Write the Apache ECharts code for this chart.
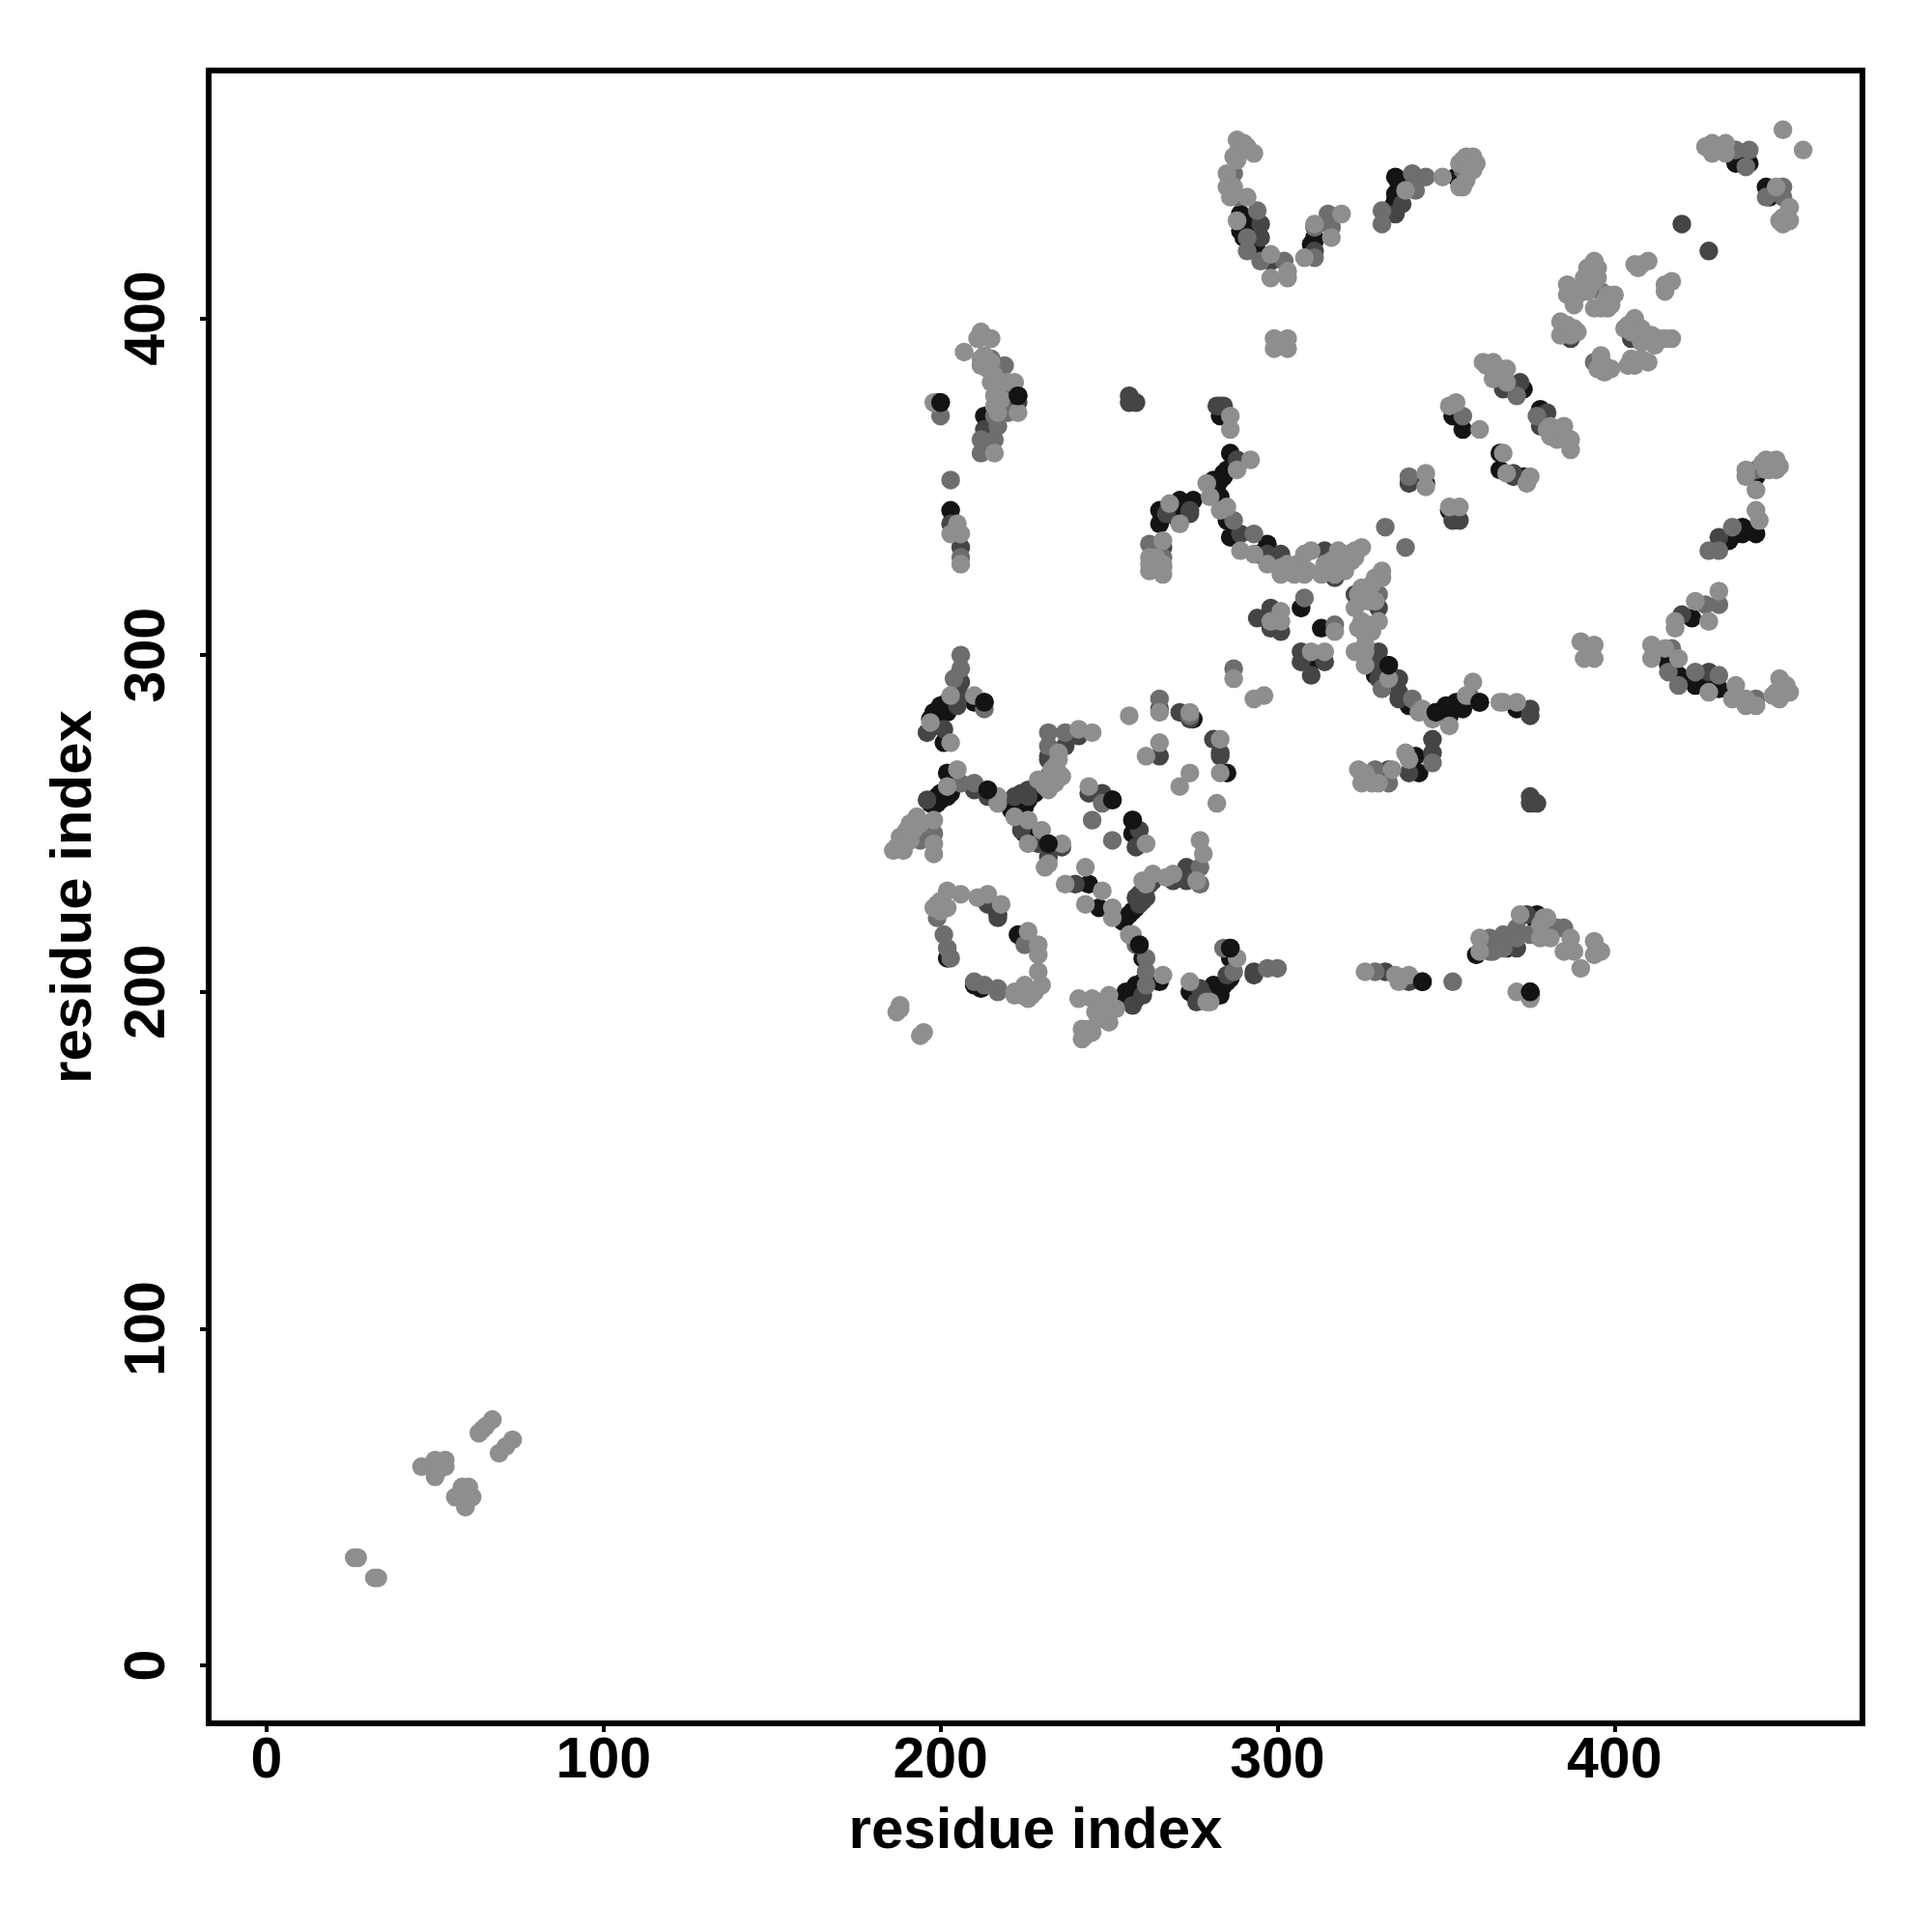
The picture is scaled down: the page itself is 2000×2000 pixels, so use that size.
<!DOCTYPE html>
<html><head><meta charset="utf-8">
<style>html,body{margin:0;background:#fff}#c{width:2000px;height:2000px}</style>
<script src="https://cdn.jsdelivr.net/npm/echarts@6/dist/echarts.min.js"></script></head>
<body><div id="c"></div>
<script>
const tickValues=[0,100,200,300,400];
const axisTitle="residue index";
const contactsLight=[[26,32],[27,32],[32,26],[33,26],[46,59],[50,56],[50,61],[53,61],[53,59],[51,58],[56,50],[59,47],[58,53],[60,53],[61,50],[58,50],[67,73],[65,71],[63,69],[64,70],[73,67],[71,65],[69,63],
[205,266],[202,261],[217,258],[217,256],[198,251],[191,250],[193,252],[198,244],[198,241],[188,246],[191,245],[186,242],[189,242],[229,263],[234,262],[235,265],[235,269],[231,261],[226,251],[222,252],[230,248],[226,244],[236,244],[232,238],[231,237],[244,261],[261,244],[243,237],[237,232],[248,230],[243,226],[251,225],[251,222],[261,232],[263,235],[260,233],[267,234],[269,235],[276,233],[257,217],[256,217],[266,205],[241,198],[245,198],[250,199],[252,195],[250,191],[246,194],[245,188],[242,189],[242,186],[202,230],[206,229],[211,228],[214,229],[218,226],[198,225],[202,225],[226,218],[229,214],[229,211],[229,206],[230,202],[225,202],[222,199],[226,198],[224,199],[188,195],[188,196],[187,194],[195,188],[194,187],
[274,265],[271,261],[283,265],[282,256],[324,266],[326,265],[325,262],[328,262],[334,266],[339,269],[277,245],[278,241],[288,210],[274,203],[280,197],[279,197],[326,206],[335,205],[336,203],[339,205],[360,216],[360,212],
[372,223],[379,222],[380,222],[378,220],[381,216],[378,216],[387,216],[388,212],[385,212],[390,207],[394,215],[394,211],[396,212],[371,200],[375,198],
[216,360],[205,339],[203,336],[206,336],[206,327],[210,288],[197,280],[203,274],[203,288],[241,278],[245,277],[235,271],[256,282],[265,283],[265,274],[261,270],[268,345],[271,339],[266,334],[262,329],[262,325],[266,324],[262,327],
[292,358],[288,355],[279,351],[280,347],[285,344],[283,343],[289,331],[293,330],[297,327],[301,326],[301,324],[306,327],[308,330],[308,324],[305,324],[310,331],[318,331],[314,327],[313,324],[317,324],[320,327],[321,330],[325,332],[323,331],[331,325],[331,323],[329,323],[325,320],[325,316],[323,314],[330,310],[324,308],[328,307],[326,306],[323,301],[326,301],[326,297],[333,293],[343,284],[342,283],[346,281],[351,279],[356,288],[358,292],[367,286],[301,313],[298,310],[301,310],[317,307],[310,301],[314,301],[287,293],[296,288],[293,287],[274,283],[283,275],[338,271],[344,354],[344,350],[351,344],[354,344],[367,360],[368,354],
[375,353],[374,351],[387,364],[387,361],[383,364],[448,358],[445,358],[448,355],[445,355],[439,355],[439,353],[442,349],[442,343],[443,340],[431,319],[424,316],[428,310],[418,310],[418,308],[390,304],[394,303],[391,299],[394,299],[411,303],[411,299],[415,302],[419,299],[428,289],[436,291],[435,287],[439,285],[439,287],[442,285],[447,288],[449,293],[449,287],[451,291],[452,289],[366,286],[371,286],
[288,453],[290,452],[290,450],[293,449],[287,448],[288,447],[285,443],[285,439],[287,439],[286,436],[291,436],[288,429],[298,419],[298,412],[303,414],[303,412],[308,418],[311,428],[316,424],[319,431],[338,438],[349,442],[355,439],[354,439],[354,446],[359,446],[356,448],[358,448],[299,394],[299,391],[303,394],[303,391],[286,371],[286,367],[351,374],[353,375],[360,367],[361,387],[364,387],[366,385],[364,382],
[429,452],[429,449],[433,452],[433,449],[450,456],[456,450],[448,439],[452,433],[449,429],[452,429],[394,417],[392,415],[395,412],[393,410],[386,410],[386,407],[389,407],[398,407],[400,407],[396,403],[398,403],[408,416],[410,417],[407,415],[417,411],[415,408],[384,399],[386,398],[389,396],[384,395],[406,400],[403,397],[408,397],[411,395],[408,393],[415,394],[417,394],[412,392],[396,389],[395,385],[399,385],[397,384],[406,386],[410,387],[408,388],[368,385],[368,381],[381,368],[385,368],[381,365],
[212,396],[211,394],[215,394],[207,390],[212,388],[212,386],[215,387],[215,381],[220,381],[222,381],[216,377],[223,372],[216,374],[198,375],
[388,404],[387,408],[390,409],[393,413],[394,411],[392,408],[397,405],[399,404],[394,403],[385,397],[387,395],[388,397],[404,398],[405,396],[407,395],[409,394],[411,393],[413,394],[396,387],[397,386],[404,386],[405,388],[391,412],[395,415],[406,416],[415,410],
[248,196],[248,193],[243,187],[244,189],[247,192],[249,195],[190,248],[189,244],[192,248],[187,243],[194,250],
[320,325],[318,327],[316,327],[322,328],[323,329],[328,321],[327,319],[327,316],[324,318],[329,316],[325,310],[327,309],[326,303],[325,308],[303,325],[306,325],[309,325],[303,327],[319,330],[316,328],
[356,446],[357,447],[355,447],[357,445],[358,444],[289,450],[288,449],[291,451],[266,326],[264,326],[264,329],[263,326],[266,327],[326,264],[325,265],[327,263],[330,262],[447,356],[446,357],[446,355],[449,356],[444,357],[431,451],[427,451],[450,430],[451,430],[450,428],[356,441],[357,444],[450,290],[448,289],
[213,389],[214,385],[216,383],[217,380],[218,376],[217,372],[232,260],[233,263],[233,266],[234,267],[236,264],[382,366],[384,366],[383,367],[380,367],[365,385],[366,383],[362,386],[222,200],[224,200],[228,200],[227,199],[199,226],[200,224],[200,227]];
const contactsMid=[[206,262],[210,262],[198,247],[194,245],[248,256],[245,251],[251,245],[258,214],[261,210],[261,206],[261,202],[248,197],[199,222],[201,217],[202,213],[203,210],[225,214],[217,201],[217,200],[213,202],[210,203],
[329,266],[333,262],[346,268],[277,237],[277,232],[284,213],[287,206],[297,207],[300,207],[329,206],[352,203],[363,216],[363,212],[364,212],[367,217],[367,213],[371,219],[371,216],[375,217],[385,219],[383,219],
[212,360],[212,364],[216,364],[203,352],[206,329],[206,300],[206,296],[204,293],[213,284],[232,277],[237,277],[232,273],[265,287],[274,282],[262,333],[266,329],
[287,340],[293,336],[332,338],[338,332],[330,318],[331,290],[340,287],[357,288],[308,317],[317,309],[287,296],[339,353],
[442,355],[435,338],[431,331],[428,331],[431,315],[427,315],[417,302],[416,295],[419,291],[424,295],[431,294],[442,287],
[287,443],[288,436],[294,432],[291,424],[291,420],[295,417],[302,417],[311,418],[311,427],[316,427],[315,431],[331,432],[331,428],[341,438],[340,443],[344,442],[355,444],[355,371],[364,385],
[436,450],[440,450],[439,445],[450,439],[450,436],[445,436],[396,408],[394,387],[371,377],[377,371],
[219,386],[215,388],[220,372],[216,371],[217,368],[200,371]];
const contactsDark=[[196,257],[210,260],[214,258],[224,259],[226,260],[230,262],[232,264],[232,269],[224,248],[229,244],[232,240],[236,243],[244,259],[248,259],[259,248],[258,243],[240,232],[259,226],[259,229],[263,233],[269,233],[273,237],[273,233],[257,196],[260,199],[214,226],[217,222],
[283,270],[333,266],[339,265],[346,271],[293,206],[293,205],[277,201],[276,197],[285,205],[332,206],[339,203],
[375,258],[375,256],[377,256],[371,213],[374,223],
[203,339],[206,332],[206,292],[206,288],[205,285],[196,277],[201,278],[241,276],[237,273],[232,270],[265,284],[271,283],[274,281],[265,270],[267,342],[274,343],[266,332],
[288,358],[274,342],[289,336],[297,330],[301,330],[314,331],[317,323],[323,318],[330,314],[330,301],[330,297],[330,293],[336,293],[336,289],[336,287],[294,311],[298,314],[298,308],[301,307],[307,301],[307,298],[310,294],[314,298],[281,275],[283,271],[339,351],[352,340],[354,340],[346,275],
[370,354],[370,353],[431,335],[420,312],[428,295],[375,284],[375,282],
[295,428],[295,424],[298,417],[311,420],[335,431],[337,434],[282,374],[283,374],[284,374],[367,379],
[420,428],[428,420],[372,381],[380,372],[378,368],[387,394],[405,394],
[220,378],[223,375],[213,367],[256,377],[256,375],[258,375],
[258,228],[260,230],[261,228],[262,232],[260,227],[222,258],[226,258],[278,199]];
const contactsBlack=[[202,265],[201,258],[198,257],[199,256],[202,258],[214,260],[222,256],[224,256],[223,254],[225,247],[232,244],[251,257],[257,251],[257,247],[244,232],[247,225],[255,222],[257,224],[259,214],[260,210],[265,203],[258,202],[256,200],[258,198],[217,223],[223,217],[202,210],[210,202],[212,201],
[285,265],[274,200],[286,213],[286,210],[280,198],[282,200],[284,202],[286,204],[281,202],[279,200],[343,203],[359,211],[342,265],
[377,223],[377,220],[368,213],[375,200],[375,199],
[203,343],[213,286],[210,286],[202,286],[200,283],[197,281],[201,274],[275,346],[271,346],[265,343],[270,341],[265,339],
[286,360],[286,355],[284,354],[281,352],[284,353],[280,351],[283,347],[271,341],[285,340],[286,335],[297,333],[294,330],[307,314],[313,308],[310,298],[333,297],[329,294],[339,285],[347,283],[351,282],[351,284],[353,286],[355,284],[360,286],[275,281],[344,351],[351,343],[366,355],[341,270],
[366,360],[373,353],[442,353],[442,336],[438,336],[434,334],[423,311],[416,299],[419,294],[424,291],[428,291],[431,290],[371,284],
[289,431],[290,429],[290,424],[294,420],[311,423],[335,442],[341,442],[335,435],[353,442],[283,371],[352,371],[355,367],
[436,446],[440,446],[445,439],[446,436],[373,379],[378,373],
[223,377],[213,371],[215,367],[200,375],[199,375],
[200,257],[197,256],[203,259],[200,259],[199,258],[203,262],[221,254],[225,255],[226,257],[223,258],[228,259],[254,221],[256,223],[258,225],[254,198],[255,200],[257,199],[259,200],[260,203],[278,198],[280,200],[283,199],[283,201],[285,203],[278,200],[350,283],[352,284],[354,286],[350,285],[356,287],[283,352],[285,355],[282,350],[287,357],[281,349],[199,281],[198,279],[200,285],[203,286],[202,283],[198,283],[416,297],[424,293],[427,292],[429,292],[290,427],[292,427],[289,426],[293,423],[335,437],[336,440],[334,433],[438,338],[440,337],[436,336],[311,424],[310,422]];
const contactsTopBlack=[[251,257],[343,203],[223,377],[200,375],[257,251],[213,286],[375,200],[333,297],[347,283],[360,286],[232,244],[214,260],[259,214],[286,213]];
const font="'Liberation Sans',Arial,sans-serif";
function layer(data,color){return {type:'scatter',data:data,symbol:'circle',symbolSize:19.5,itemStyle:{color:color,opacity:1},silent:true,emphasis:{disabled:true},animation:false};}
function axis(pos){
 const isX=pos==='bottom';
 return {type:'value',position:pos,min:-17.2,max:473.6,name:axisTitle,nameLocation:'middle',nameGap:isX?82:109,nameRotate:isX?0:90,
  nameTextStyle:{color:'#000',fontFamily:font,fontWeight:'bold',fontSize:60},
  axisLine:{show:false,onZero:false},splitLine:{show:false},
  axisTick:{show:true,length:9,inside:false,customValues:tickValues,lineStyle:{color:'#000',width:4}},
  axisLabel:{show:true,customValues:tickValues,rotate:isX?0:90,margin:isX?10:33,color:'#000',fontFamily:font,fontWeight:'bold',fontSize:59,verticalAlign:isX?'top':'bottom',align:'center'}};
}
const chart=echarts.init(document.getElementById('c'),null,{renderer:'canvas'});
chart.setOption({animation:false,backgroundColor:'#fff',
 grid:{show:true,left:216,top:73,width:1712,height:1711,borderColor:'#000',borderWidth:6,backgroundColor:'transparent',containLabel:false},
 xAxis:axis('bottom'),yAxis:axis('left'),
 series:[layer(contactsBlack,'#141414'),layer(contactsDark,'#454545'),layer(contactsMid,'#6e6e6e'),layer(contactsLight,'#8e8e8e'),layer(contactsTopBlack,'#141414')]});
</script></body></html>
